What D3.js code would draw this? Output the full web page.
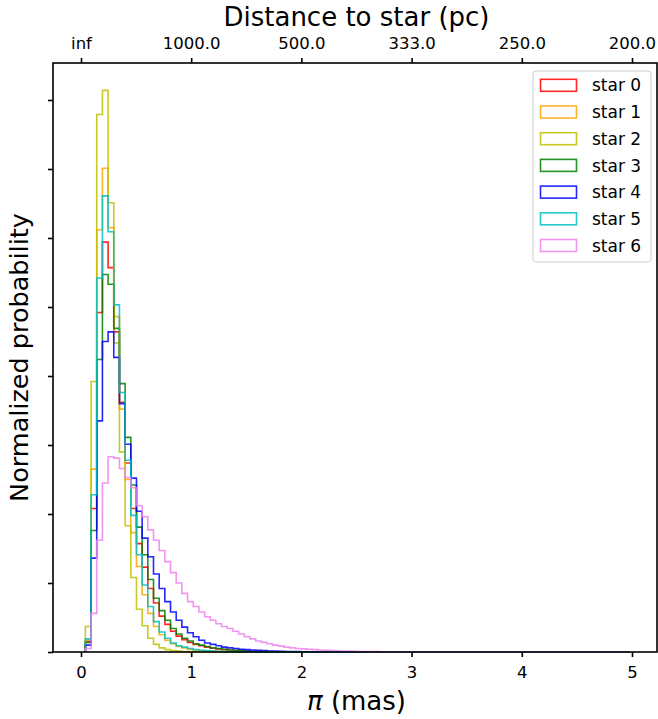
<!DOCTYPE html>
<html>
<head>
<meta charset="utf-8">
<script src="https://cdn.jsdelivr.net/npm/d3@7"></script>
<style>
  html, body { margin: 0; padding: 0; background: #fff; }
  svg { display: block; font-family: "DejaVu Sans", sans-serif; }
</style>
</head>
<body>
<script>
// histogram bins (parallax, mas)
const binStart = 0.04;
const binWidth = 0.0515;
const lastEdge = 4.98;

// normalized probability per bin
const star0 = [0.15, 2.08, 4.92, 5.94, 5.57, 4.64, 3.62, 2.74, 2.08, 1.57, 1.23, 0.92, 0.71, 0.52, 0.40, 0.30, 0.23, 0.18, 0.14, 0.11, 0.09, 0.07, 0.055, 0.045, 0.035, 0.028, 0.022, 0.018, 0.014, 0.011, 0.009, 0.007, 0.005, 0.004, 0.003, 0.002];
const star1 = [0.17, 2.65, 6.12, 7.01, 6.15, 4.86, 3.52, 2.50, 1.73, 1.24, 0.83, 0.56, 0.37, 0.25, 0.17, 0.12, 0.08, 0.06, 0.04, 0.03, 0.02, 0.015, 0.01, 0.007, 0.005, 0.003, 0.002];
const star2 = [0.37, 3.92, 7.79, 8.14, 6.51, 4.48, 2.90, 1.83, 1.08, 0.62, 0.38, 0.20, 0.11, 0.06, 0.035, 0.02, 0.012, 0.008, 0.005, 0.003, 0.002];
const star3 = [0.14, 1.76, 4.24, 5.47, 5.33, 4.69, 3.89, 3.11, 2.42, 1.81, 1.41, 1.05, 0.78, 0.60, 0.46, 0.34, 0.26, 0.20, 0.16, 0.12, 0.10, 0.08, 0.06, 0.05, 0.04, 0.03, 0.025, 0.02, 0.015, 0.011, 0.008, 0.006, 0.004, 0.003, 0.002];
const star4 = [0.10, 1.36, 3.35, 4.50, 4.64, 4.27, 3.60, 3.01, 2.52, 2.04, 1.65, 1.38, 1.13, 0.92, 0.73, 0.58, 0.46, 0.36, 0.28, 0.22, 0.17, 0.13, 0.11, 0.09, 0.07, 0.06, 0.05, 0.04, 0.035, 0.03, 0.025, 0.02, 0.015, 0.012, 0.01, 0.008, 0.006, 0.005, 0.004, 0.003, 0.002];
const star5 = [0.19, 2.28, 5.42, 6.61, 6.09, 5.03, 3.76, 2.78, 1.98, 1.41, 0.97, 0.66, 0.44, 0.29, 0.20, 0.13, 0.09, 0.07, 0.05, 0.035, 0.025, 0.02, 0.015, 0.01, 0.007, 0.005, 0.003, 0.002];
const star6 = [0.05, 0.56, 1.62, 2.45, 2.83, 2.81, 2.66, 2.53, 2.38, 2.12, 1.96, 1.77, 1.62, 1.47, 1.31, 1.15, 1.00, 0.85, 0.73, 0.66, 0.58, 0.51, 0.46, 0.41, 0.37, 0.34, 0.30, 0.26, 0.22, 0.19, 0.16, 0.14, 0.12, 0.10, 0.085, 0.07, 0.06, 0.05, 0.045, 0.04, 0.035, 0.03, 0.025, 0.02, 0.018, 0.015, 0.012, 0.01, 0.008, 0.007, 0.006, 0.005, 0.004, 0.003, 0.003, 0.002, 0.002, 0.001];

const seriesNames = ["star 0", "star 1", "star 2", "star 3", "star 4", "star 5", "star 6"];
const seriesValues = [star0, star1, star2, star3, star4, star5, star6];
const seriesColors = ["#ff0000", "#ffa500", "#bfbf00", "#008000", "#0000ff", "#00bfbf", "#ee82ee"];

const xTicks = [0, 1, 2, 3, 4, 5];
const topTickLabels = ["inf", "1000.0", "500.0", "333.0", "250.0", "200.0"];
const yTicks = [0, 1, 2, 3, 4, 5, 6, 7, 8];

// 1. dimensions
let dimensions = {
  width: 658,
  height: 719,
  margin: { top: 63, right: 1, bottom: 67, left: 53 },
};
dimensions.boundedWidth = dimensions.width - dimensions.margin.left - dimensions.margin.right;
dimensions.boundedHeight = dimensions.height - dimensions.margin.top - dimensions.margin.bottom;

// 2. canvas
const svg = d3.select("body").append("svg")
  .attr("width", dimensions.width)
  .attr("height", dimensions.height);

const bounds = svg.append("g")
  .attr("transform", `translate(${dimensions.margin.left},${dimensions.margin.top})`);

// 3. scales
const xScale = d3.scaleLinear()
  .domain([-0.254, 5.227])
  .range([0, dimensions.boundedWidth]);

const yScale = d3.scaleLinear()
  .domain([0, 8.536])
  .range([dimensions.boundedHeight, 0]);

// 4. step histograms
const stepLine = d3.line()
  .x(d => xScale(d[0]))
  .y(d => yScale(d[1]))
  .curve(d3.curveStepAfter);

const toSteps = (vals) => {
  const pts = [[binStart, 0]];
  vals.forEach((v, i) => pts.push([binStart + i * binWidth, v]));
  pts.push([binStart + vals.length * binWidth, 0]);
  pts.push([lastEdge, 0]);
  return pts;
};

bounds.append("g").attr("class", "hists")
  .selectAll("path")
  .data(seriesValues)
  .join("path")
  .attr("d", d => stepLine(toSteps(d)))
  .attr("fill", "none")
  .attr("stroke", (d, i) => seriesColors[i])
  .attr("stroke-width", 1.6)
  .attr("stroke-opacity", 0.85)
  .attr("stroke-linejoin", "miter");

// 5. axes
const xAxis = bounds.append("g")
  .attr("transform", `translate(0,${dimensions.boundedHeight})`)
  .call(d3.axisBottom(xScale).tickValues(xTicks).tickFormat(d3.format("d")).tickSizeOuter(0).tickSize(5).tickPadding(9));

const topAxis = bounds.append("g")
  .call(d3.axisTop(xScale).tickValues(xTicks).tickFormat((d, i) => topTickLabels[i]).tickSizeOuter(0).tickSize(5).tickPadding(9));

const yAxis = bounds.append("g")
  .call(d3.axisLeft(yScale).tickValues(yTicks).tickFormat("").tickSizeOuter(0).tickSize(5));

[xAxis, topAxis, yAxis].forEach(ax => {
  ax.select(".domain").remove();
  ax.selectAll(".tick line").attr("stroke", "#000").attr("stroke-width", 1.6);
  ax.selectAll(".tick text")
    .attr("fill", "#000")
    .attr("font-size", 16.5)
    .attr("font-family", "DejaVu Sans, sans-serif");
});

// frame
bounds.append("rect")
  .attr("width", dimensions.boundedWidth)
  .attr("height", dimensions.boundedHeight)
  .attr("fill", "none")
  .attr("stroke", "#000")
  .attr("stroke-width", 1.6);

// 6. labels
svg.append("text")
  .attr("x", dimensions.margin.left + xScale(2.5))
  .attr("y", 26)
  .attr("text-anchor", "middle")
  .attr("font-size", 26)
  .text("Distance to star (pc)");

const xLabel = svg.append("text")
  .attr("x", dimensions.margin.left + xScale(2.5))
  .attr("y", 710)
  .attr("text-anchor", "middle")
  .attr("font-size", 26);
xLabel.append("tspan").attr("font-style", "italic").text("π");
xLabel.append("tspan").text(" (mas)");

svg.append("text")
  .attr("transform", `translate(28,${dimensions.margin.top + dimensions.boundedHeight / 2}) rotate(-90)`)
  .attr("text-anchor", "middle")
  .attr("font-size", 25.5)
  .text("Normalized probability");

// 7. legend
const legend = svg.append("g").attr("transform", "translate(533,71)");
legend.append("rect")
  .attr("width", 118)
  .attr("height", 191)
  .attr("rx", 3)
  .attr("fill", "#fff")
  .attr("fill-opacity", 0.8)
  .attr("stroke", "#cccccc")
  .attr("stroke-width", 1);

const items = legend.selectAll(".item")
  .data(seriesNames)
  .join("g")
  .attr("class", "item")
  .attr("transform", (d, i) => `translate(0,${14.3 + i * 26.7})`);

items.append("rect")
  .attr("x", 7.5)
  .attr("y", -6)
  .attr("width", 36)
  .attr("height", 12)
  .attr("fill", "none")
  .attr("stroke", (d, i) => seriesColors[i])
  .attr("stroke-width", 1.6)
  .attr("stroke-opacity", 0.85);

items.append("text")
  .attr("x", 59)
  .attr("y", 0)
  .attr("dy", "0.36em")
  .attr("font-size", 17)
  .text(d => d);
</script>
</body>
</html>
